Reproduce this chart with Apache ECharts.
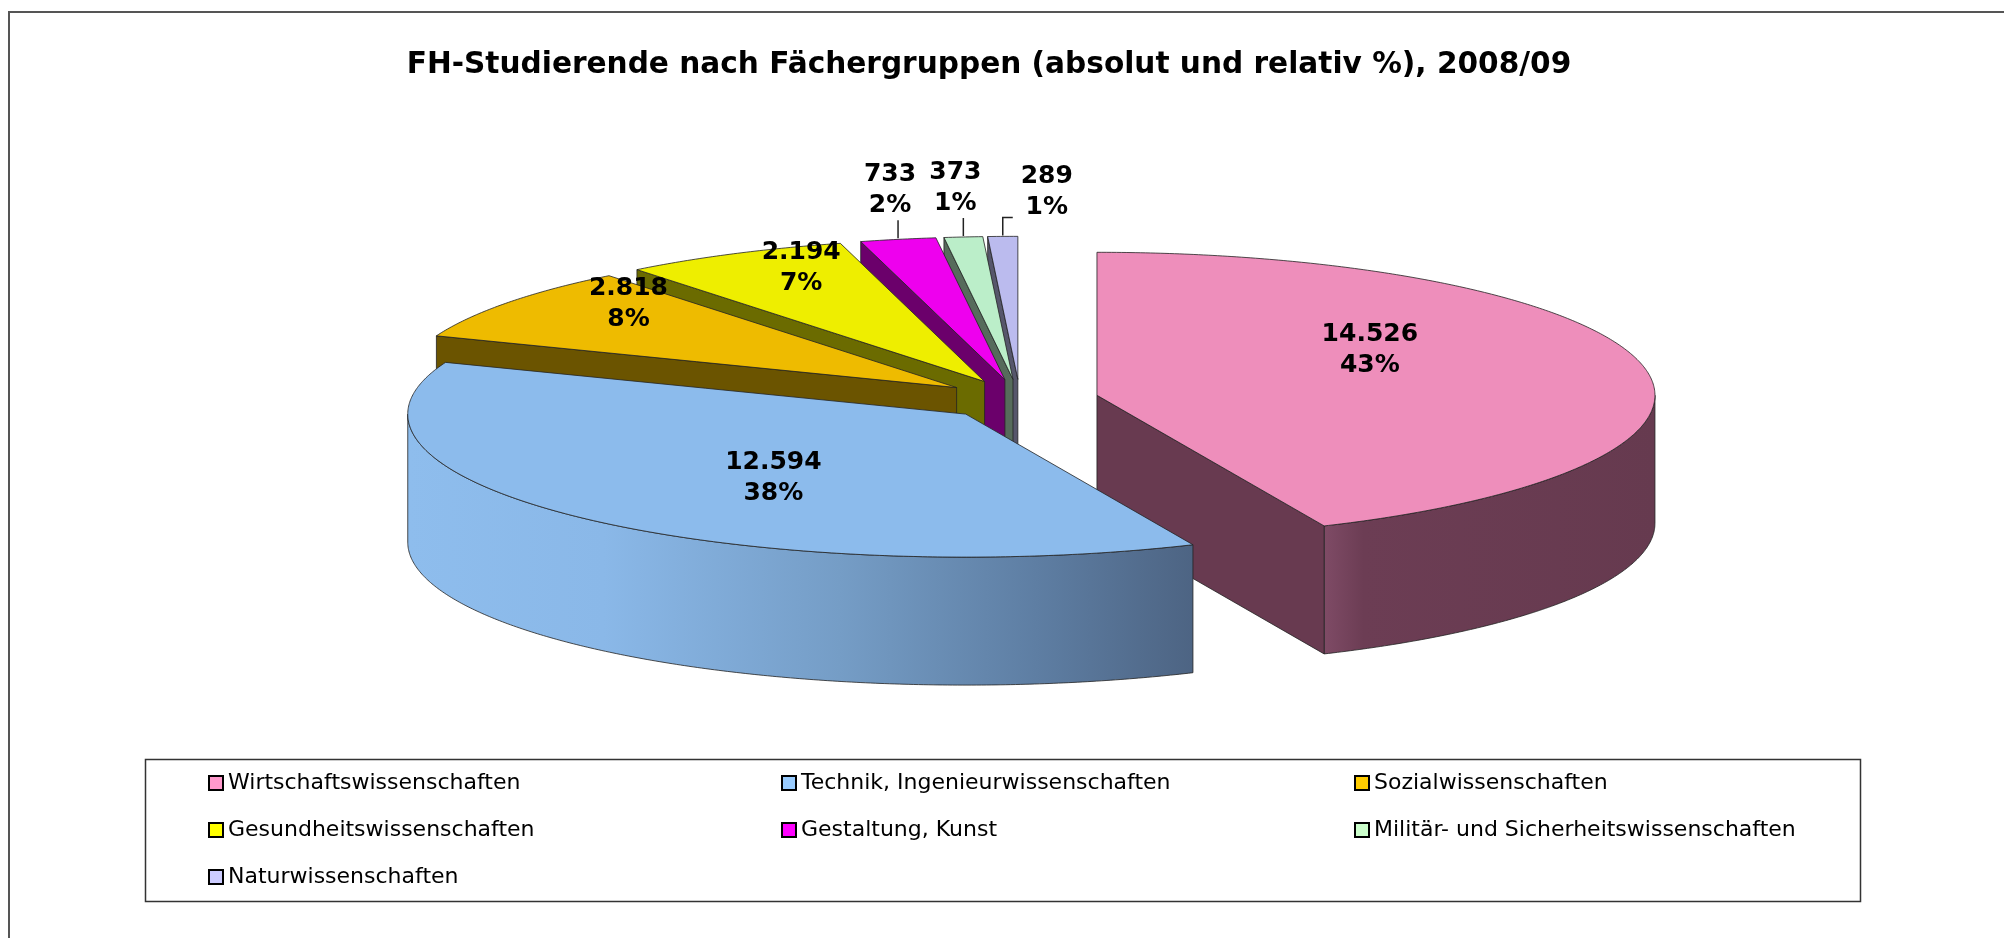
<!DOCTYPE html>
<html>
<head>
<meta charset="utf-8">
<script src="https://cdn.jsdelivr.net/npm/echarts@6.0.0/dist/echarts.min.js"></script>
<style>html,body{margin:0;padding:0;background:#fff}#c{width:2004px;height:938px}</style>
</head>
<body>
<div id="c"></div>
<script>
// ---- data ----
const categories = [
  'Wirtschaftswissenschaften',
  'Technik, Ingenieurwissenschaften',
  'Sozialwissenschaften',
  'Gesundheitswissenschaften',
  'Gestaltung, Kunst',
  'Militär- und Sicherheitswissenschaften',
  'Naturwissenschaften'
];
const students = [14526, 12594, 2818, 2194, 733, 373, 289];
const titleText = 'FH-Studierende nach Fächergruppen (absolut und relativ %), 2008/09';

// ---- styles ----
const legendColors = ['#FF99CC', '#99CCFF', '#FFCC00', '#FFFF00', '#FF00FF', '#CCFFCC', '#CCCCFF'];
const topColors = ['#EE8EBB', '#8CBBEC', '#EEBB00', '#EEEE00', '#EE00EE', '#BBEEC9', '#BBBBEE'];
const sideColors = ['#683A50', '#55708F', '#6B5400', '#6B6B00', '#6B006B', '#566B5B', '#56566B'];
const wallGradients = [
  [[0, '#7F4B66'], [0.12, '#6C3D54'], [1, '#663A4F']],
  [[0, '#8EBDED'], [0.25, '#8AB8E8'], [0.55, '#759DC6'], [0.8, '#5E7EA3'], [1, '#4D6483']],
  null, null, null, null, null
];
const PIE = { cx: 1020, cy: 399.5, rx: 558, ry: 143, depth: 128, explode: 0.141 };
const LABEL_FONT = { fontFamily: 'DejaVu Sans', fontWeight: 'bold', fontSize: 25, lineHeight: 31 };

const total = students.reduce((a, b) => a + b, 0);
function fmt(n) { return String(n).replace(/\B(?=(\d{3})+(?!\d))/g, '.'); }
function geom(i, v) {
  let before = 0;
  for (let k = 0; k < i; k++) before += students[k];
  const val = v == null ? students[i] : v;
  const a1 = before / total * 2 * Math.PI, a2 = (before + val) / total * 2 * Math.PI;
  const mid = (a1 + a2) / 2;
  const ox = PIE.cx + PIE.explode * PIE.rx * Math.sin(mid);
  const oy = PIE.cy - PIE.explode * PIE.ry * Math.cos(mid);
  const P = (t, dz) => [ox + PIE.rx * Math.sin(t), oy - PIE.ry * Math.cos(t) + dz];
  return { a1, a2, mid, ox, oy, P, pct: val / total };
}
// painter's order: back slices first
const depthRank = (() => {
  const d = students.map((_, i) => -Math.cos(geom(i).mid));
  const order = d.map((_, i) => i).sort((p, q) => d[p] - d[q]);
  const r = [];
  order.forEach((idx, k) => { r[idx] = k; });
  return r;
})();
// outside labels for small slices: above the leader, or to its right when crowded
const outsideLabels = (() => {
  const res = {};
  let prev = -Infinity;
  students.forEach((v, i) => {
    const g = geom(i);
    if (g.pct < 0.03) {
      const lineX = g.P(g.mid, 0)[0];
      let x = lineX - 8, side = false;
      if (x < prev + 60) { x = lineX + 44; side = true; }
      res[i] = { x, side };
      prev = x;
    }
  });
  return res;
})();

function makeRender(i) {
  return function (params, api) {
    const v = api.value(0);
    const g = geom(i, v);
    const { a1, a2, mid, ox, oy, P } = g;
    const D = PIE.depth;
    const arc = (ta, tb, dz) => {
      const n = Math.max(2, Math.ceil((tb - ta) / (Math.PI / 360)));
      const pts = [];
      for (let k = 0; k <= n; k++) pts.push(P(ta + (tb - ta) * k / n, dz));
      return pts;
    };
    const stroke = { stroke: 'rgba(35,35,35,0.8)', lineWidth: 1, lineJoin: 'round' };
    const base = depthRank[i] * 10;
    const children = [];
    const w1 = Math.max(a1, Math.PI / 2), w2 = Math.min(a2, 1.5 * Math.PI);
    if (w2 > w1) {
      const stops = wallGradients[i] || [[0, sideColors[i]], [1, sideColors[i]]];
      children.push({
        type: 'polygon', z2: base + 1,
        shape: { points: arc(w1, w2, 0).concat(arc(w1, w2, D).reverse()) },
        style: Object.assign({
          fill: new echarts.graphic.LinearGradient(0, 0, 1, 0,
            stops.map(s => ({ offset: s[0], color: s[1] })))
        }, stroke)
      });
    }
    const face = (t) => ({
      type: 'polygon', z2: base + 2,
      shape: { points: [[ox, oy], P(t, 0), P(t, D), [ox, oy + D]] },
      style: Object.assign({ fill: sideColors[i] }, stroke)
    });
    if (Math.sin(a1) < -1e-6) children.push(face(a1));
    if (Math.sin(a2) > 1e-6) children.push(face(a2));
    children.push({
      type: 'polygon', z2: base + 3,
      shape: { points: [[ox, oy]].concat(arc(a1, a2, 0)) },
      style: Object.assign({ fill: topColors[i] }, stroke)
    });

    const txt = fmt(v) + '\n' + Math.round(g.pct * 100) + '%';
    const textStyle = Object.assign({ text: txt, fill: '#000', align: 'center', verticalAlign: 'middle',
      textAlign: 'center', textVerticalAlign: 'middle' }, LABEL_FONT);
    if (g.pct >= 0.03) {
      const big = g.pct > 0.2;
      const kx = big ? 0.5 : 0.73, ky = big ? 0.82 : 0.69;
      const lx = ox + kx * PIE.rx * Math.sin(mid);
      const ly = oy - ky * PIE.ry * Math.cos(mid) - (big ? 21 : 25);
      children.push({ type: 'text', z2: 1000, x: lx, y: ly, style: textStyle });
    } else {
      const p = P(mid, 0);
      const info = outsideLabels[i];
      const lineTop = p[1] - 19;
      const pts = [[p[0], p[1] - 1], [p[0], lineTop]];
      let ly = lineTop - 30;
      if (info.side) { pts.push([p[0] + 10, lineTop]); ly = lineTop - 25; }
      children.push({
        type: 'polyline', z2: 999, shape: { points: pts },
        style: { stroke: '#222', lineWidth: 1.5, fill: null }
      });
      children.push({ type: 'text', z2: 1000, x: info.x, y: ly, style: textStyle });
    }
    return { type: 'group', children };
  };
}

const chart = echarts.init(document.getElementById('c'), null, { renderer: 'canvas', width: 2004, height: 938 });
chart.setOption({
  animation: false,
  backgroundColor: '#fff',
  title: {
    text: titleText, left: 989, top: 50, padding: 0, textAlign: 'center',
    textStyle: { fontFamily: 'DejaVu Sans', fontWeight: 'bold', fontSize: 29.6, color: '#000' }
  },
  legend: {
    data: categories, left: 208, top: 759.5, width: 1720, padding: 0,
    orient: 'horizontal', itemGap: 0, itemWidth: 14, itemHeight: 14, icon: 'rect',
    selectedMode: false,
    itemStyle: { borderColor: '#000', borderWidth: 2 },
    textStyle: { fontFamily: 'DejaVu Sans', fontSize: 22, color: '#000', width: 553, lineHeight: 47, overflow: 'none' }
  },
  graphic: [
    { type: 'rect', shape: { x: 9, y: 12, width: 2100, height: 1000 }, style: { fill: null, stroke: '#555', lineWidth: 2 }, silent: true },
    { type: 'rect', shape: { x: 145.5, y: 759.5, width: 1715, height: 142 }, style: { fill: null, stroke: '#333', lineWidth: 1.5 }, silent: true }
  ],
  series: categories.map((name, i) => ({
    type: 'custom', name, coordinateSystem: 'none', silent: true,
    itemStyle: { color: legendColors[i] },
    data: [[students[i]]],
    renderItem: makeRender(i)
  }))
});
</script>
</body>
</html>
